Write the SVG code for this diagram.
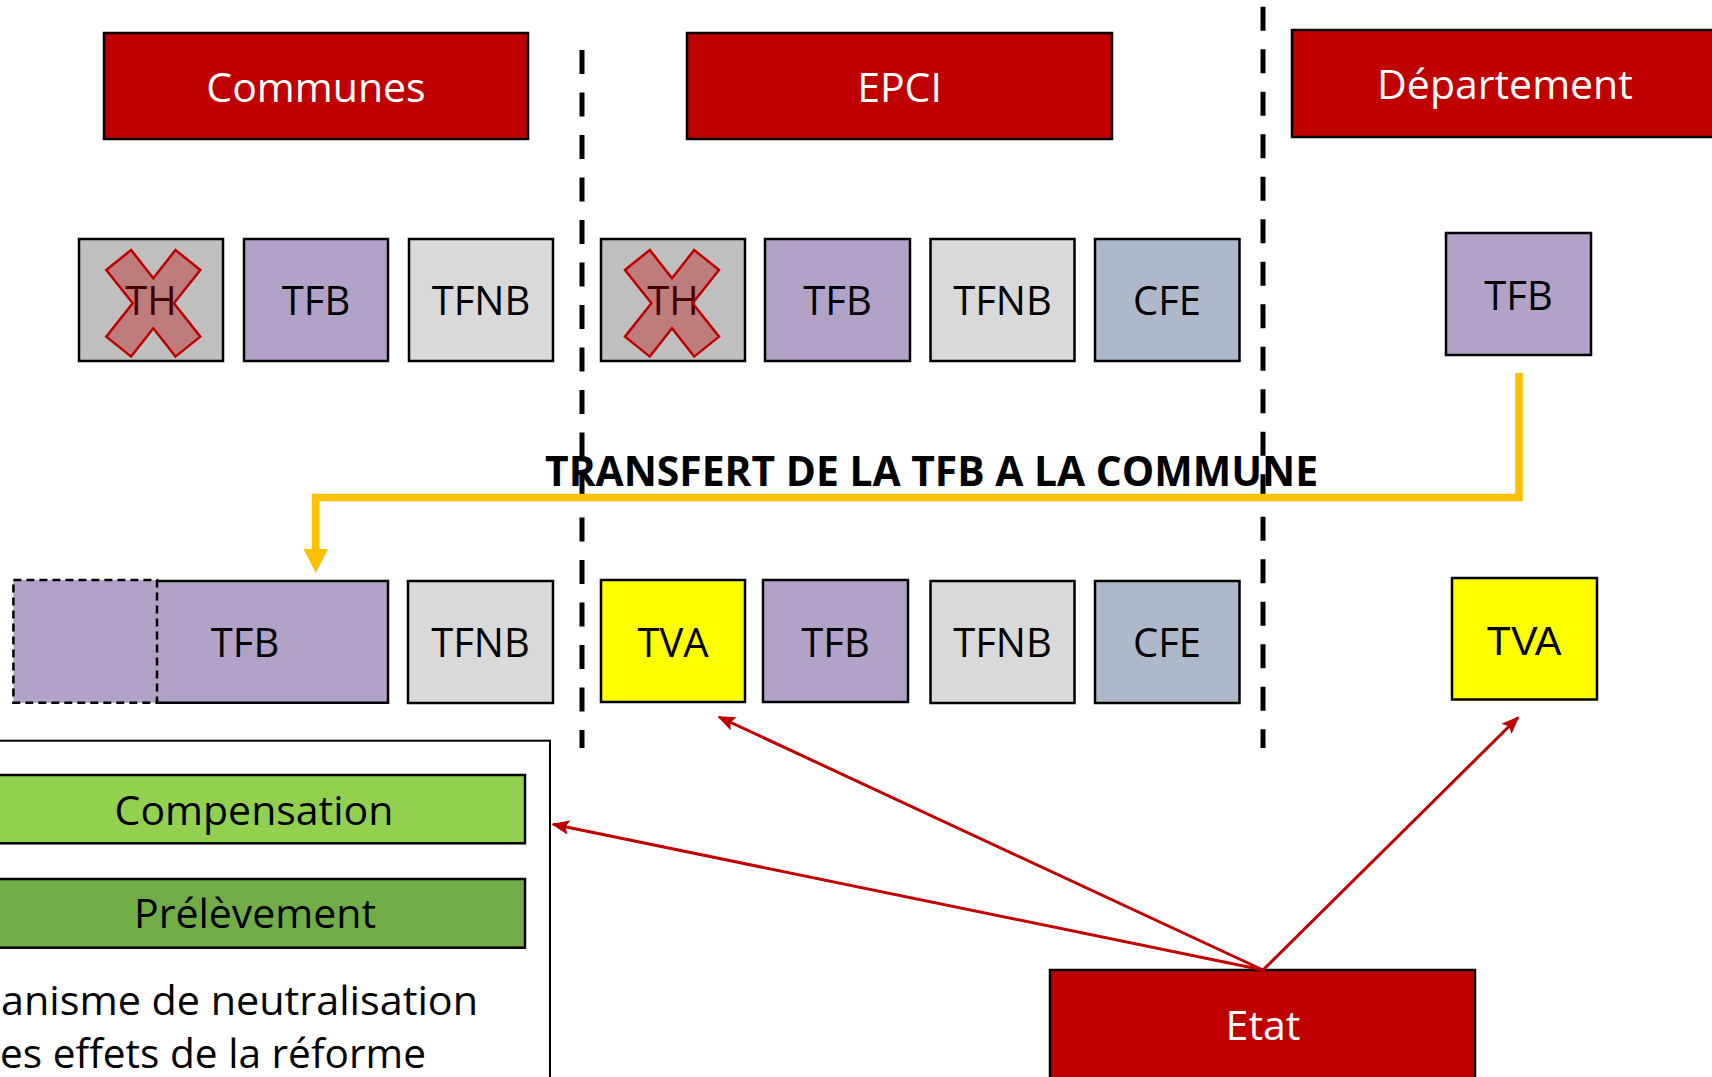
<svg xmlns="http://www.w3.org/2000/svg" width="1712" height="1077" viewBox="0 0 1712 1077">
  <defs>
    <style>
      .hdr{fill:#C00000;stroke:#000;stroke-width:2.5}
      .hdr-t{font-family:"Open Sans","Liberation Sans",sans-serif;font-size:41px;fill:#fff;text-anchor:middle}
      .tile{stroke:#000;stroke-width:2.5}
      .lbl{font-family:"Open Sans","Liberation Sans",sans-serif;font-size:40px;fill:#000;text-anchor:middle}
      .lbl-arial{font-family:"Liberation Sans",Arial,sans-serif;font-size:40px;fill:#000;text-anchor:middle}
      .th{fill:#BFBFBF}
      .tfb{fill:#B2A2C7}
      .tfnb{fill:#D9D9D9}
      .cfe{fill:#ADB9CA}
      .tva{fill:#FFFF00}
      .divider{stroke:#000;stroke-width:5;stroke-dasharray:24 18.5;fill:none}
      .red{stroke:#C00000;stroke-width:3;fill:none;marker-end:url(#ah)}
      .legend-t{font-family:"Open Sans","Liberation Sans",sans-serif;font-size:41px;fill:#000}
    </style>
    <marker id="ah" viewBox="0 0 10 8" refX="9" refY="4" markerUnits="strokeWidth" markerWidth="6" markerHeight="4.8" orient="auto">
      <path d="M0,0 L10,4 L0,8 L2,4 Z" fill="#C00000"/>
    </marker>
    <!-- strike-out cross laid over an abolished tax -->
    <path id="cross" d="M-22.2,-53.3 L0,-25 L22.2,-53.3 L47,-33.3 L20.6,0 L47,33.3 L22.2,53.3 L0,25 L-22.2,53.3 L-47,33.3 L-20.6,0 L-47,-33.3 Z" fill="#C00000" fill-opacity="0.35" stroke="#C00000" stroke-width="2.5" stroke-linejoin="miter"/>
  </defs>

  <rect x="0" y="0" width="1712" height="1077" fill="#fff"/>

  <!-- column separators -->
  <g id="separators">
    <line class="divider" x1="582" y1="50" x2="582" y2="748"/>
    <line class="divider" x1="1263" y1="6.7" x2="1263" y2="748"/>
  </g>

  <!-- headers -->
  <g id="hdr-communes">
    <rect class="hdr" x="104" y="33" width="424" height="106"/>
    <text class="hdr-t" x="316" y="101.7">Communes</text>
  </g>
  <g id="hdr-epci">
    <rect class="hdr" x="687" y="33" width="425" height="106"/>
    <text class="hdr-t" x="899.5" y="101.7">EPCI</text>
  </g>
  <g id="hdr-departement">
    <rect class="hdr" x="1292" y="30" width="426" height="107"/>
    <text class="hdr-t" x="1505" y="99.3">Département</text>
  </g>

  <!-- before the reform: communes -->
  <g id="c1-th">
    <rect class="tile th" x="79" y="239" width="144" height="122"/>
    <text class="lbl" x="151" y="315">TH</text>
    <use href="#cross" x="153.3" y="303.3"/>
  </g>
  <g id="c1-tfb">
    <rect class="tile tfb" x="244" y="239" width="144" height="122"/>
    <text class="lbl" x="316" y="315">TFB</text>
  </g>
  <g id="c1-tfnb">
    <rect class="tile tfnb" x="409" y="239" width="144" height="122"/>
    <text class="lbl" x="481" y="315">TFNB</text>
  </g>

  <!-- before the reform: EPCI -->
  <g id="e1-th">
    <rect class="tile th" x="601" y="239" width="144" height="122"/>
    <text class="lbl" x="673" y="315">TH</text>
    <use href="#cross" x="672" y="303.3"/>
  </g>
  <g id="e1-tfb">
    <rect class="tile tfb" x="765" y="239" width="145" height="122"/>
    <text class="lbl" x="837.5" y="315">TFB</text>
  </g>
  <g id="e1-tfnb">
    <rect class="tile tfnb" x="930.5" y="239" width="144" height="122"/>
    <text class="lbl" x="1002.5" y="315">TFNB</text>
  </g>
  <g id="e1-cfe">
    <rect class="tile cfe" x="1095" y="239" width="144.5" height="122"/>
    <text class="lbl" x="1167" y="315">CFE</text>
  </g>

  <!-- before the reform: département -->
  <g id="d1-tfb">
    <rect class="tile tfb" x="1446" y="233" width="145" height="122"/>
    <text class="lbl" x="1518.5" y="310">TFB</text>
  </g>

  <!-- transfer label -->
  <g id="transfer-label">
    <text x="931.5" y="486" font-family="'Open Sans','Liberation Sans',sans-serif" font-weight="bold" font-size="41" text-anchor="middle" textLength="773" lengthAdjust="spacingAndGlyphs" fill="#000">TRANSFERT DE LA TFB A LA COMMUNE</text>
  </g>

  <!-- after the reform: communes -->
  <g id="c2-tfb">
    <rect class="tfb" x="157" y="581" width="231" height="121.7"/>
    <rect x="13.4" y="580" width="143.6" height="122.7" fill="#B2A2C7" stroke="#000" stroke-width="2.5" stroke-dasharray="8 5"/>
    <polyline points="157,581 388,581 388,702.7 157,702.7" fill="none" stroke="#000" stroke-width="2.5"/>
    <text class="lbl" x="245" y="656.7">TFB</text>
  </g>
  <g id="c2-tfnb">
    <rect class="tile tfnb" x="408" y="581" width="145" height="122"/>
    <text class="lbl" x="480.5" y="656.7">TFNB</text>
  </g>

  <!-- after the reform: EPCI -->
  <g id="e2-tva">
    <rect class="tile tva" x="601" y="580" width="144" height="122"/>
    <text class="lbl" x="673" y="656.7">TVA</text>
  </g>
  <g id="e2-tfb">
    <rect class="tile tfb" x="763" y="580" width="145" height="122"/>
    <text class="lbl" x="835.5" y="656.7">TFB</text>
  </g>
  <g id="e2-tfnb">
    <rect class="tile tfnb" x="930.5" y="581" width="144" height="122"/>
    <text class="lbl" x="1002.5" y="656.7">TFNB</text>
  </g>
  <g id="e2-cfe">
    <rect class="tile cfe" x="1095" y="581" width="144.5" height="122"/>
    <text class="lbl" x="1167" y="656.7">CFE</text>
  </g>

  <!-- after the reform: département -->
  <g id="d2-tva">
    <rect class="tile tva" x="1452" y="578" width="145" height="121.5"/>
    <text class="lbl-arial" x="1524" y="655">TVA</text>
  </g>

  <!-- neutralisation mechanism -->
  <g id="mechanism">
    <rect x="-10" y="740.7" width="560" height="350" fill="#fff" stroke="#000" stroke-width="2"/>
    <rect x="-10" y="775" width="535" height="68.3" fill="#92D050" stroke="#000" stroke-width="2.5"/>
    <text class="legend-t" x="254" y="825" text-anchor="middle">Compensation</text>
    <rect x="-10" y="879" width="535" height="68.7" fill="#70AD47" stroke="#000" stroke-width="2.5"/>
    <text class="legend-t" x="255" y="928.3" text-anchor="middle">Prélèvement</text>
    <text class="legend-t" x="1" y="1014.5" textLength="477" lengthAdjust="spacingAndGlyphs">anisme de neutralisation</text>
    <text class="legend-t" x="0" y="1067.5" textLength="426" lengthAdjust="spacingAndGlyphs">es effets de la réforme</text>
  </g>

  <!-- State -->
  <g id="etat">
    <rect class="hdr" x="1050" y="970" width="425" height="120"/>
    <text class="hdr-t" x="1263" y="1040">Etat</text>
  </g>

  <!-- connectors -->
  <g id="connectors">
    <path d="M1519,373 V497.5 H315.7 V551" fill="none" stroke="#FFC000" stroke-width="7.5" stroke-linejoin="miter"/>
    <polygon points="303.5,549 328,549 315.7,573" fill="#FFC000"/>
    <line class="red" x1="1263" y1="970" x2="553" y2="824.3"/>
    <line class="red" x1="1263" y1="970" x2="719" y2="717"/>
    <line class="red" x1="1263" y1="970" x2="1518" y2="717.5"/>
  </g>
</svg>
